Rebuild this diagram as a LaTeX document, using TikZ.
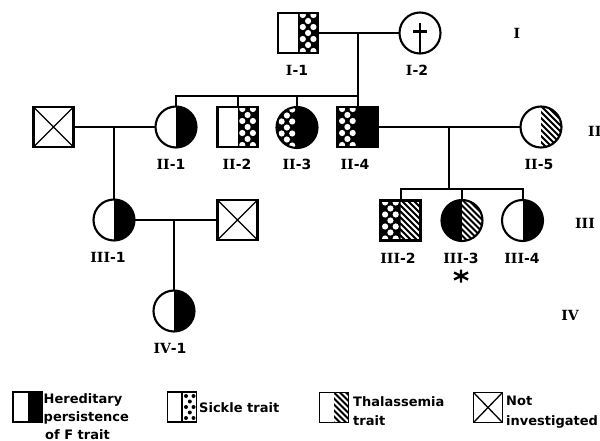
\documentclass[tikz,border=0pt]{standalone}
\usepackage{fontspec}
\newfontfamily\sansb{DejaVu Sans}
\newfontfamily\serifb{DejaVu Serif}
\usetikzlibrary{calc}
% half fills inside a symbol
\newcommand\halfR{\fill (path picture bounding box.north) rectangle (path picture bounding box.south east);}
\newcommand\halfL{\fill (path picture bounding box.north west) rectangle (path picture bounding box.south);}
% stippled half: #1 = 1 (right) or -1 (left)
\newcommand\stipHalf[1]{\begin{scope}[shift={(path picture bounding box.center)}]
  \fill (0,-26) rectangle ({#1*26},26);
  \foreach \yy in {-18,-6,6,18}{\fill[white] ({#1*4.8},\yy) circle (3.1); \fill[white] ({#1*15.4},\yy) circle (3.1);}
  \foreach \yy in {-12,0,12}{\fill[white] ({#1*10.1},\yy) circle (3.1);}
\end{scope}}
% hatched half (right)
\newcommand\hatchR{\begin{scope}[shift={(path picture bounding box.center)}]
  \clip (0,-26) rectangle (26,26);
  \fill (0,-26) rectangle (26,26);
  \foreach \c in {-54,-48,...,54}{\draw[white,line width=2pt] (\c-26,-26) -- (\c+26,26);}
\end{scope}}
% legend dots (white ground, black dots, right half)
\newcommand\legDots{\begin{scope}[shift={(path picture bounding box.center)}]
  \foreach \yy in {-11,0,11}{\fill (4,\yy) circle (2); \fill (11.5,\yy) circle (2);}
  \foreach \yy in {-5.5,5.5}{\fill (7.8,\yy) circle (2);}
  \draw[line width=1.5pt] (0,-16) -- (0,16);
\end{scope}}
% cross for not investigated
\newcommand\crossX{\draw[line width=1.3pt] (path picture bounding box.north west) -- (path picture bounding box.south east)
  (path picture bounding box.north east) -- (path picture bounding box.south west);}
% dagger (deceased)
\newcommand\daggerSym{\begin{scope}[shift={(path picture bounding box.center)}]
  \draw[line width=2.8pt] (0,-9.5) -- (0,22);
  \draw[line width=2.2pt] (-7,-1.5) -- (7,-1.5);
\end{scope}}
\tikzset{
  person/.style={draw, line width=2.1pt, inner sep=0pt, outer sep=0pt},
  male/.style={person, rectangle, minimum size=40pt},
  female/.style={person, circle, minimum size=41pt},
  link/.style={line width=2pt},
  lbl/.style={font=\sansb\bfseries\fontsize{14}{14}\selectfont, inner sep=0pt},
  gen/.style={font=\serifb\bfseries\fontsize{14}{14}\selectfont, inner sep=0pt},
  legtxt/.style={font=\sansb\bfseries\fontsize{13}{15}\selectfont, inner sep=0pt, anchor=base west},
  legbox/.style={draw, line width=1.7pt, minimum width=29pt, minimum height=30pt, inner sep=0pt, outer sep=0pt},
}
\begin{document}
\begin{tikzpicture}[x=1pt,y=-1pt]
\useasboundingbox (0,0) rectangle (600,441);
% ---- generation I
\node[male, path picture={\stipHalf{1}}] (I1) at (298,33) {};
\node[female, path picture={\daggerSym}] (I2) at (420,33) {};
\coordinate (mI) at (357.5,33);
\coordinate (sII) at (357.5,96.5);
% ---- generation II
\node[male, path picture={\crossX}] (X1) at (53.5,127) {};
\node[female, path picture={\halfR}] (II1) at (176,127) {};
\node[male, path picture={\stipHalf{1}}] (II2) at (237.5,127) {};
\node[female, path picture={\stipHalf{-1}\halfR}] (II3) at (297,127.5) {};
\node[male, path picture={\stipHalf{-1}\halfR}] (II4) at (357.5,127) {};
\node[female, path picture={\hatchR}] (II5) at (541,127) {};
\coordinate (mL) at (114,127);
\coordinate (mR) at (448.5,127);
\coordinate (sIII) at (448.5,189);
% ---- generation III
\node[female, path picture={\halfR}] (III1) at (114,220) {};
\node[male, path picture={\crossX}] (X2) at (237.5,220) {};
\coordinate (mIII) at (174,220);
\node[male, path picture={\stipHalf{-1}\hatchR}] (III2) at (400.5,220.5) {};
\node[female, path picture={\halfL\hatchR}] (III3) at (462,220.5) {};
\node[female, path picture={\halfR}] (III4) at (522.5,220.5) {};
% ---- generation IV
\node[female, path picture={\halfR}] (IV1) at (174,311) {};
% ---- connectors
\draw[link] (I1) -- (I2);
\draw[link] (mI) -- (II4.north);
\draw[link] (II1.north) |- (sII);
\draw[link] (II2.north) -- (II2.north |- sII);
\draw[link] (II3.north) -- (II3.north |- sII);
\draw[link] (X1) -- (II1);
\draw[link] (mL) -- (III1.north);
\draw[link] (III1) -- (X2);
\draw[link] (mIII) -- (IV1.north);
\draw[link] (II4) -- (II5);
\draw[link] (mR) -- (sIII);
\draw[link] (III2.north) |- (sIII) -| (III4.north);
\draw[link] (III3.north) -- (III3.north |- sIII);
% ---- labels
\node[lbl] (lI1) at (297,70) {{\serifb I}-1};
\node[lbl] (lI2) at (417,70) {{\serifb I}-2};
\node[lbl] (lII1) at (171,164) {{\serifb II}-1};
\node[lbl] (lII2) at (237,164) {{\serifb II}-2};
\node[lbl] (lII3) at (297,164) {{\serifb II}-3};
\node[lbl] (lII4) at (355,164) {{\serifb II}-4};
\node[lbl] (lII5) at (539,164) {{\serifb II}-5};
\node[lbl] (lIII1) at (108,257) {{\serifb III}-1};
\node[lbl] (lIII2) at (398,258) {{\serifb III}-2};
\node[lbl] (lIII3) at (461,258) {{\serifb III}-3};
\node[lbl] (lIII4) at (522,258) {{\serifb III}-4};
\node[lbl] (lIV1) at (170,348) {{\serifb IV}-1};
\coordinate (ast) at (461,276);
\begin{scope}[shift={(ast)}]
  \draw[line width=2.4pt] (0,-6.5) -- (0,6.5) (-7,-3.5) -- (7,3.5) (-7,3.5) -- (7,-3.5);
\end{scope}
% ---- generation numerals
\node[gen] (gI) at (517,33) {I};
\node[gen, anchor=west] (gII) at (588,131) {II};
\node[gen] (gIII) at (585,223) {III};
\node[gen] (gIV) at (570,315) {IV};
% ---- legend
\node[legbox, path picture={\halfR}] (LB1) at (27.5,407) {};
\node[legtxt] (LT1a) at (43.5,403.5) {Hereditary};
\node[legtxt] (LT1b) at (43.5,421) {persistence};
\node[legtxt] (LT1c) at (45,439) {of F trait};
\node[legbox, path picture={\legDots}] (LB2) at (182,407) {};
\node[legtxt] (LT2) at (199,412.5) {Sickle trait};
\node[legbox, path picture={\hatchR}] (LB3) at (334,407.5) {};
\node[legtxt] (LT3a) at (353,406.5) {Thalassemia};
\node[legtxt] (LT3b) at (353,425) {trait};
\node[legbox, path picture={\crossX}] (LB4) at (488,407.5) {};
\node[legtxt] (LT4a) at (506,405) {Not};
\node[legtxt] (LT4b) at (506,425) {investigated};
\end{tikzpicture}
\end{document}
